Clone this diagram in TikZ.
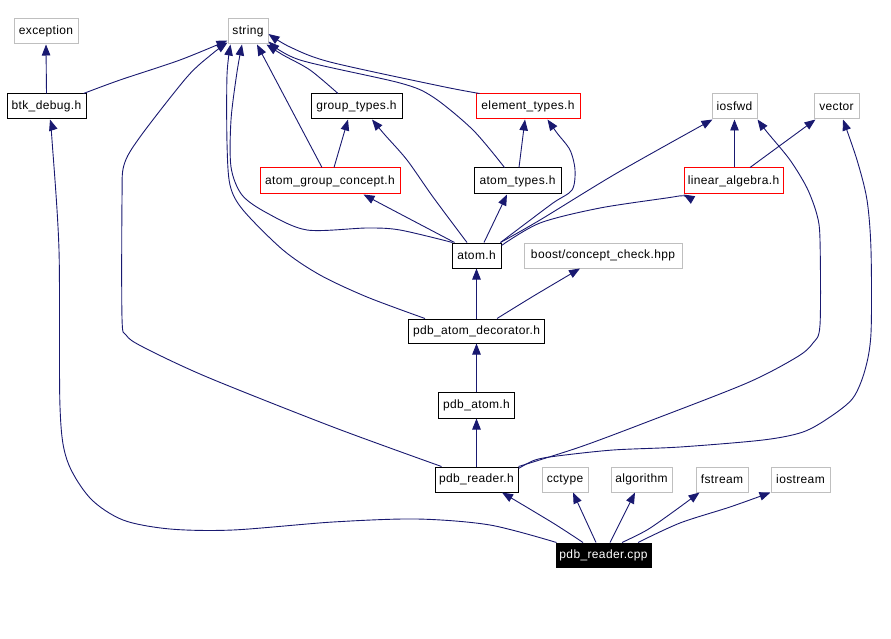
\documentclass[tikz,border=0pt]{standalone}
\usepackage{fontspec}
\setmainfont{Liberation Sans}[LetterSpace=3]
\usetikzlibrary{arrows.meta}
\definecolor{edgeblue}{HTML}{191970}
\definecolor{boxgray}{HTML}{BFBFBF}
\begin{document}
\begin{tikzpicture}[x=1pt,y=-1pt,
  box/.style={draw, line width=1pt, inner sep=0pt, minimum height=25pt, font=\fontsize{12}{14}\selectfont, text=black},
  gbox/.style={box, draw=boxgray},
  bbox/.style={box, draw=black},
  rbox/.style={box, draw=red},
  cbox/.style={box, draw=black, fill=black, text=white},
  dep/.style={draw=edgeblue, line width=0.9pt, -{Triangle[length=11pt,width=8.5pt,fill=edgeblue]}}]
\useasboundingbox (0,0) rectangle (891,639);
% nodes
\node[gbox, minimum width=64pt] (exception) at (46,31.5) {exception};
\node[gbox, minimum width=40pt] (string) at (248,31.5) {string};
\node[bbox, minimum width=79pt] (btk_debug) at (46.5,106.5) {btk\_debug.h};
\node[bbox, minimum width=91pt] (group_types) at (356.5,106.5) {group\_types.h};
\node[rbox, minimum width=104pt] (element_types) at (528,106.5) {element\_types.h};
\node[gbox, minimum width=45pt] (iosfwd) at (734.5,106.5) {iosfwd};
\node[gbox, minimum width=45pt] (vector) at (836.5,106.5) {vector};
\node[rbox, minimum width=140pt, minimum height=26pt] (atom_group_concept) at (330,181) {atom\_group\_concept.h};
\node[bbox, minimum width=87pt, minimum height=26pt] (atom_types) at (517.5,181) {atom\_types.h};
\node[rbox, minimum width=99pt, minimum height=26pt] (linear_algebra) at (733.5,181) {linear\_algebra.h};
\node[bbox, minimum width=49pt] (atom) at (476.5,255.5) {atom.h};
\node[gbox, minimum width=158pt] (boost) at (603,255.5) {boost/concept\_check.hpp};
\node[bbox, minimum width=136pt, minimum height=24pt] (pdb_atom_decorator) at (476.5,331) {pdb\_atom\_decorator.h};
\node[bbox, minimum width=76pt, minimum height=26pt] (pdb_atom) at (476.5,405) {pdb\_atom.h};
\node[bbox, minimum width=83pt] (pdb_reader_h) at (476.5,479.5) {pdb\_reader.h};
\node[gbox, minimum width=46pt] (cctype) at (565,479.5) {cctype};
\node[gbox, minimum width=61pt] (algorithm) at (641.5,479.5) {algorithm};
\node[gbox, minimum width=52pt] (fstream) at (722,479.5) {fstream};
\node[gbox, minimum width=59pt] (iostream) at (800.5,479.5) {iostream};
\node[cbox, minimum width=95pt, minimum height=24pt] (pdb_reader_cpp) at (603.5,555) {pdb\_reader.cpp};
% edges
\draw[dep] (btk_debug.north) -- (exception.south);
\draw[dep] plot[smooth,tension=.5] coordinates {([xshift=-3pt]btk_debug.north east) (120,80) (180,60) ([yshift=4pt]string.south west)};
\draw[dep] plot[smooth,tension=.5] coordinates {([xshift=7pt]pdb_reader_h.north west) (333,427) (207,377) (143,347) (126,335) (122,318) (122,200) (124,165) (140,137) (187,77) (212,54) ([yshift=2pt]string.south west)};
\draw[dep] plot[smooth,tension=.5] coordinates {([xshift=17pt]pdb_atom_decorator.north west) (367,297) (320,275) (283,250) (243,210) (230,185) (227,143) (227,75) ([xshift=3pt]string.south west)};
\draw[dep] plot[smooth,tension=.5] coordinates {([xshift=1pt]atom.north west) (400,230) (367,228) (307,230) (267,213) (242,195) (231,167) (231,120) (237,72) ([xshift=-6pt]string.south)};
\draw[dep] ([xshift=-8pt]atom_group_concept.north) -- ([xshift=9pt]string.south);
\draw[dep] plot[smooth,tension=.5] coordinates {([xshift=-18.5pt]group_types.north) (310,70) (283,55) ([xshift=-2pt]string.south east)};
\draw[dep] plot[smooth,tension=.5] coordinates {([xshift=4pt]element_types.north west) (440,86) (330,62) (290,47) ([yshift=-2.5pt]string.east)};
\draw[dep] plot[smooth,tension=.5] coordinates {([xshift=31pt]atom_types.north west) (473,130) (433,97) (400,83) (300,60) ([yshift=3pt]string.south east)};
\draw[dep] plot[smooth,tension=.5] coordinates {([xshift=-1pt]atom.north east) (517,230) (553,203) (572,190) (575,170) (570,150) (557,133) ([xshift=-33pt]element_types.south east)};
\draw[dep] ([xshift=1.5pt]atom_types.north) -- ([xshift=-3pt]element_types.south);
\draw[dep] ([xshift=7.5pt]atom.north) -- ([xshift=-10.5pt]atom_types.south);
\draw[dep] plot[smooth,tension=.5] coordinates {([xshift=3pt]atom.north west) (387,207) ([xshift=-37pt]atom_group_concept.south east)};
\draw[dep] plot[smooth,tension=.5] coordinates {([xshift=-9.5pt]atom.north) (433,197) (407,160) (385,135) ([xshift=15.5pt]group_types.south)};
\draw[dep] ([xshift=4pt]atom_group_concept.north) -- ([xshift=-8.5pt]group_types.south);
\draw[dep] plot[smooth,tension=.5] coordinates {([xshift=-1pt]atom.north east) (540,220) (617,173) ([xshift=1pt]iosfwd.south west)};
\draw[dep] plot[smooth,tension=.5] coordinates {([yshift=-3pt]atom.north east) (540,223) (600,208) (673,197) (linear_algebra.south west)};
\draw[dep] ([xshift=1pt]linear_algebra.north) -- (iosfwd.south);
\draw[dep] ([xshift=16.5pt]linear_algebra.north) -- ([xshift=2pt]vector.south west);
\draw[dep] plot[smooth,tension=.5] coordinates {(pdb_reader_h.north east) (580,447) (647,422) (747,383) (797,357) (813,343) (820,325) (820,240) (817,215) (807,188) (790,160) (767,132) (iosfwd.south east)};
\draw[dep] plot[smooth,tension=.5] coordinates {([yshift=-2pt]pdb_reader_h.north east) (535,460) (557,456) (613,450) (680,447) (763,440) (803,432) (830,417) (853,398) (865,370) (871,333) (871,250) (867,200) (857,160) ([xshift=6.5pt]vector.south)};
\draw[dep] (pdb_reader_h.north) -- (pdb_atom.south);
\draw[dep] (pdb_atom.north) -- (pdb_atom_decorator.south);
\draw[dep] (pdb_atom_decorator.north) -- (atom.south);
\draw[dep] plot[smooth,tension=.5] coordinates {([xshift=20.5pt]pdb_atom_decorator.north) (527,300) (547,288) ([xshift=-23pt]boost.south)};
\draw[dep] plot[smooth,tension=.5] coordinates {([xshift=-20.5pt]pdb_reader_cpp.north) (553,523) ([xshift=25.5pt]pdb_reader_h.south)};
\draw[dep] ([xshift=-7.5pt]pdb_reader_cpp.north) -- ([xshift=8pt]cctype.south);
\draw[dep] ([xshift=6.5pt]pdb_reader_cpp.north) -- ([xshift=-6.5pt]algorithm.south);
\draw[dep] plot[smooth,tension=.5] coordinates {([xshift=18.5pt]pdb_reader_cpp.north) (647,530) (673,512) ([xshift=4pt]fstream.south west)};
\draw[dep] plot[smooth,tension=.5] coordinates {([xshift=34.5pt]pdb_reader_cpp.north) (680,523) (730,507) (iostream.south west)};
\draw[dep] plot[smooth,tension=.5] coordinates {([xshift=1pt]pdb_reader_cpp.north west) (490,525) (417,519) (333,522) (233,530) (170,529) (123,520) (90,498) (67,460) (60,407) (59,250) (52,140) ([xshift=3.5pt]btk_debug.south)};
\end{tikzpicture}
\end{document}
